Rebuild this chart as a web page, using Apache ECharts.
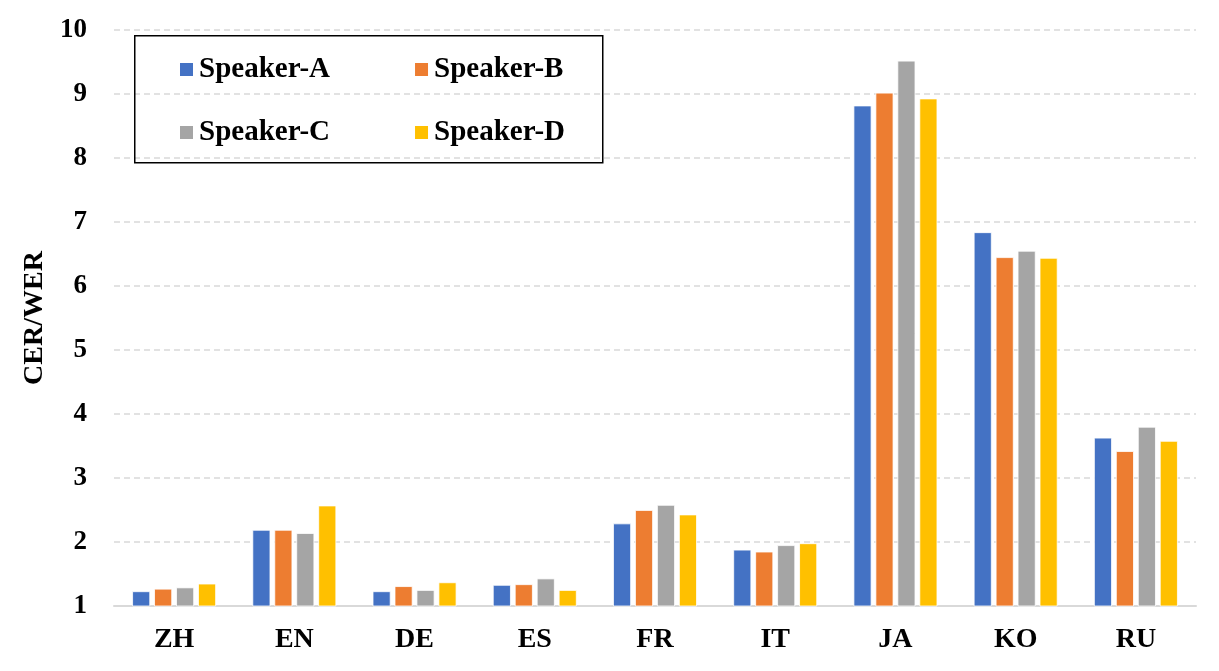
<!DOCTYPE html>
<html>
<head>
<meta charset="utf-8">
<script src="https://cdn.jsdelivr.net/npm/echarts@6/dist/echarts.min.js"></script>
<style>
  html, body { margin: 0; padding: 0; background: #fff; }
  #bar-chart { width: 1219px; height: 671px; }
</style>
</head>
<body>
<div id="bar-chart"></div>
<script>
// languages on the x axis
let languages = ['ZH', 'EN', 'DE', 'ES', 'FR', 'IT', 'JA', 'KO', 'RU']

// CER/WER per speaker
let speakerA = [1.23, 2.19, 1.23, 1.33, 2.29, 1.88, 8.82, 6.84, 3.63]
let speakerB = [1.27, 2.19, 1.31, 1.34, 2.50, 1.85, 9.02, 6.45, 3.42]
let speakerC = [1.29, 2.14, 1.25, 1.43, 2.58, 1.95, 9.52, 6.55, 3.80]
let speakerD = [1.35, 2.57, 1.37, 1.25, 2.43, 1.98, 8.93, 6.44, 3.58]

let speakerNames = ['Speaker-A', 'Speaker-B', 'Speaker-C', 'Speaker-D']
let yTicks = [1, 10, 1] // min, max, interval

const font = "'Liberation Serif', 'Times New Roman', serif"
const colors = ['#4472C4', '#ED7D31', '#A5A5A5', '#FFC000']

let myChart = echarts.init(document.getElementById('bar-chart'))

let seriesData = [speakerA, speakerB, speakerC, speakerD]

let legendText = {
  fontFamily: font,
  fontWeight: 'bold',
  fontSize: 29,
  color: '#000'
}

// two rows of two, so one legend per row
let legendRow = (names, top) => ({
  data: names,
  left: 178,
  top: top,
  padding: 0,
  itemWidth: 15,
  itemHeight: 15,
  itemGap: 83,
  icon: 'rect',
  textStyle: legendText
})

let option = {
  color: colors,
  animation: false,
  grid: {
    left: 114,
    right: 23,
    top: 30,
    bottom: 65
  },
  legend: [
    legendRow([speakerNames[0], speakerNames[1]], 55),
    legendRow([speakerNames[2], speakerNames[3]], 118)
  ],
  graphic: [
    {
      type: 'rect',
      left: 134,
      top: 35,
      z: 100,
      shape: {width: 468, height: 127},
      style: {fill: 'rgba(255,255,255,0)', stroke: '#000', lineWidth: 1.5}
    }
  ],
  xAxis: {
    type: 'category',
    data: languages,
    axisTick: {show: false},
    axisLine: {lineStyle: {color: '#d9d9d9', width: 2}},
    axisLabel: {
      color: '#000',
      fontFamily: font,
      fontWeight: 'bold',
      fontSize: 28,
      margin: 20
    }
  },
  yAxis: {
    type: 'value',
    min: yTicks[0],
    max: yTicks[1],
    interval: yTicks[2],
    name: 'CER/WER',
    nameLocation: 'middle',
    nameRotate: 90,
    nameGap: 57,
    nameTextStyle: {
      color: '#000',
      fontFamily: font,
      fontWeight: 'bold',
      fontSize: 28
    },
    axisLine: {show: false},
    axisTick: {show: false},
    axisLabel: {
      color: '#000',
      fontFamily: font,
      fontWeight: 'bold',
      fontSize: 27,
      margin: 27
    },
    splitLine: {
      lineStyle: {color: '#d9d9d9', width: 1.5, type: [6, 4]}
    }
  },
  series: seriesData.map((data, i) => ({
    name: speakerNames[i],
    type: 'bar',
    data: data,
    barWidth: 18,
    barGap: '22%',
    itemStyle: {borderColor: '#fff', borderWidth: 0.8}
  }))
}

myChart.setOption(option)
</script>
</body>
</html>
